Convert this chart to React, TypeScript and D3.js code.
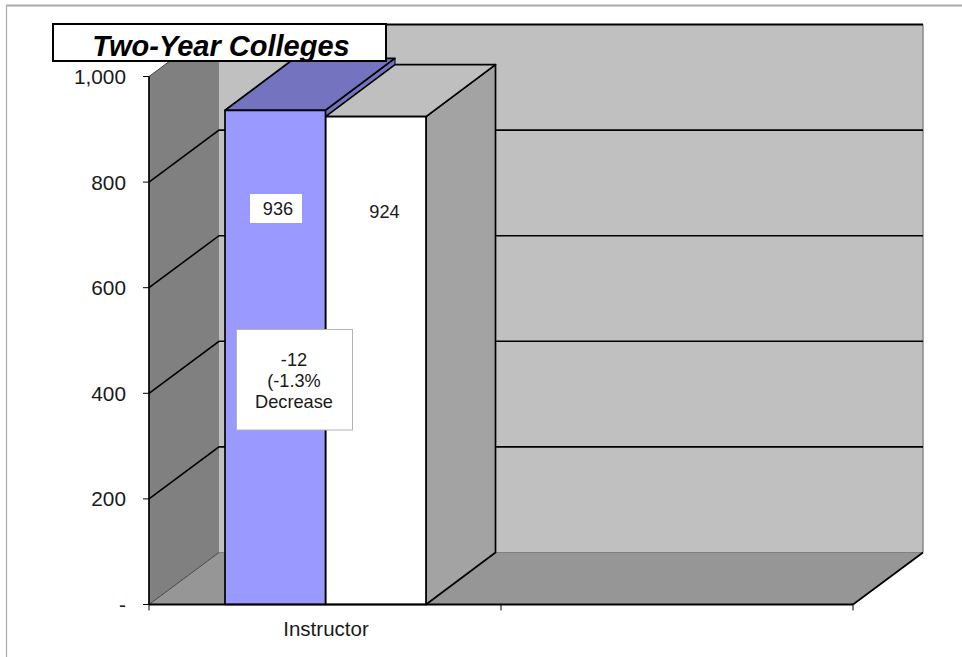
import React from "react";
import * as d3 from "d3";

const categories = ["Instructor", ""];
const seriesNames = ["Year 1", "Year 2"];
const seriesValues = [936, 924];
const seriesFront = ["#9999ff", "#ffffff"];
const seriesTop = ["#7373bf", "#bfbfbf"];
const seriesSide = ["#7373bf", "#a3a3a3"];
const yTicks = [0, 200, 400, 600, 800, 1000];
const titleText = "Two-Year Colleges";
const noteLines = ["-12", "(-1.3%", "Decrease"];

const FONT = "'Liberation Sans', Arial, sans-serif";
const DX = 70;
const DY = -52;
const BDX = 69.5;

export default function App() {
  const y = d3.scaleLinear().domain([0, 1000]).range([604.5, 76.5]);
  const x = d3.scaleBand().domain(categories.map((c, i) => `${i}`)).range([149, 853]);
  const x0 = x("0") as number;
  const bw = 100.5;
  const barStart = x0 + 76;
  const fmt = (v: number) => (v === 0 ? "-" : d3.format(",")(v));
  const pts = (a: number[][]) => a.map((p) => p.join(",")).join(" ");
  const left = 149, right = 853, bottom = y(0), top = y(1000);

  const bars = seriesValues.map((v, i) => ({
    v,
    i,
    x0: barStart + i * bw,
    x1: barStart + (i + 1) * bw,
    yTop: y(v),
  }));

  return (
    <svg
      width={962}
      height={657}
      style={{ position: "absolute", left: 0, top: 0, background: "#fff" }}
      fontFamily={FONT}
    >
      {/* page frame */}
      <line x1={6} y1={5.5} x2={962} y2={5.5} stroke="#aaaaaa" strokeWidth={2} />
      <line x1={6.5} y1={5} x2={6.5} y2={657} stroke="#aaaaaa" strokeWidth={1.2} />

      {/* back wall */}
      <rect x={left + DX} y={top + DY} width={right - left} height={bottom - top} fill="#c0c0c0" />
      <line x1={right + DX} y1={top + DY} x2={right + DX} y2={bottom + DY} stroke="#8a8a8a" strokeWidth={1.5} />
      <line x1={left + DX} y1={top + DY} x2={right + DX} y2={top + DY} stroke="#000" strokeWidth={1.8} />

      {/* side wall */}
      <polygon
        points={pts([[left, bottom], [left, top], [left + DX, top + DY], [left + DX, bottom + DY]])}
        fill="#808080"
      />
      {/* floor */}
      <polygon
        points={pts([[left, bottom], [right, bottom], [right + DX, bottom + DY], [left + DX, bottom + DY]])}
        fill="#969696"
      />
      <line x1={left + DX} y1={bottom + DY} x2={right + DX} y2={bottom + DY} stroke="#808080" strokeWidth={1} />
      <line x1={left} y1={bottom} x2={left + DX} y2={bottom + DY} stroke="#444" strokeWidth={1} />
      <line x1={right} y1={bottom} x2={right + DX} y2={bottom + DY} stroke="#000" strokeWidth={1.7} />

      {/* gridlines */}
      {yTicks.filter((t) => t > 0 && t < 1000).map((t) => (
        <g key={t} fill="none" stroke="#000" strokeWidth={1.6}>
          <polyline points={pts([[left, y(t)], [left + DX, y(t) + DY], [right + DX, y(t) + DY]])} />
        </g>
      ))}
      <line x1={left} y1={top} x2={left + DX} y2={top + DY} stroke="#444" strokeWidth={1} />

      {/* first bar's side, behind the second bar */}
      <polygon
        points={pts([
          [bars[0].x1, bars[0].yTop],
          [bars[0].x1 + BDX, bars[0].yTop + DY],
          [bars[0].x1 + BDX, bottom + DY],
          [bars[0].x1, bottom],
        ])}
        fill={seriesSide[0]}
        stroke="#000"
        strokeWidth={1}
      />
      {/* bars, second then first */}
      {[...bars].reverse().map((b) => (
        <g key={b.i} stroke="#000" strokeWidth={1.7} strokeLinejoin="round">
          {b.i === 1 && (
            <polygon
              points={pts([[b.x1, b.yTop], [b.x1 + BDX, b.yTop + DY], [b.x1 + BDX, bottom + DY], [b.x1, bottom]])}
              fill={seriesSide[b.i]}
            />
          )}
          <polygon
            points={pts([[b.x0, b.yTop], [b.x1, b.yTop], [b.x1 + BDX, b.yTop + DY], [b.x0 + BDX, b.yTop + DY]])}
            fill={seriesTop[b.i]}
          />
          <rect x={b.x0} y={b.yTop} width={bw} height={bottom - b.yTop} fill={seriesFront[b.i]} />
        </g>
      ))}

      {/* axes */}
      <line x1={left} y1={top} x2={left} y2={bottom} stroke="#000" strokeWidth={1.7} />
      <line x1={left} y1={bottom} x2={right} y2={bottom} stroke="#000" strokeWidth={2} />
      {yTicks.map((t) => (
        <g key={t}>
          <line x1={left - 6} y1={y(t)} x2={left} y2={y(t)} stroke="#000" strokeWidth={1} />
          <text x={126} y={y(t) + 7.5} textAnchor="end" fontSize={20.8} fill="#1a1a1a">
            {fmt(t)}
          </text>
        </g>
      ))}
      {d3.range(categories.length + 1).map((i) => {
        const tx = left + (i * (right - left)) / categories.length;
        return <line key={i} x1={tx} y1={bottom} x2={tx} y2={bottom + 6} stroke="#000" strokeWidth={1} />;
      })}
      <text x={326} y={636} textAnchor="middle" fontSize={20.5} fill="#1a1a1a">
        {categories[0]}
      </text>

      {/* value labels */}
      <rect x={250} y={194} width={52} height={29} fill="#fff" />
      <text x={278} y={215} textAnchor="middle" fontSize={18.2} fill="#1a1a1a">
        {seriesValues[0]}
      </text>
      <text x={384.5} y={218} textAnchor="middle" fontSize={18.2} fill="#1a1a1a">
        {seriesValues[1]}
      </text>

      {/* difference note */}
      <rect x={236.5} y={329.5} width={116} height={100.5} fill="#fff" stroke="#b4b4b4" strokeWidth={1} />
      {noteLines.map((l, i) => (
        <text key={i} x={294} y={366 + i * 21} textAnchor="middle" fontSize={18.2} fill="#1a1a1a">
          {l}
        </text>
      ))}

      {/* title */}
      <rect x={53} y={24} width={333} height={37} fill="#fff" stroke="#000" strokeWidth={2} />
      <text
        x={221}
        y={56}
        textAnchor="middle"
        fontSize={29}
        fontWeight="bold"
        fontStyle="italic"
        fill="#000"
      >
        {titleText}
      </text>
      <title>{seriesNames.join(" / ")}</title>
    </svg>
  );
}
